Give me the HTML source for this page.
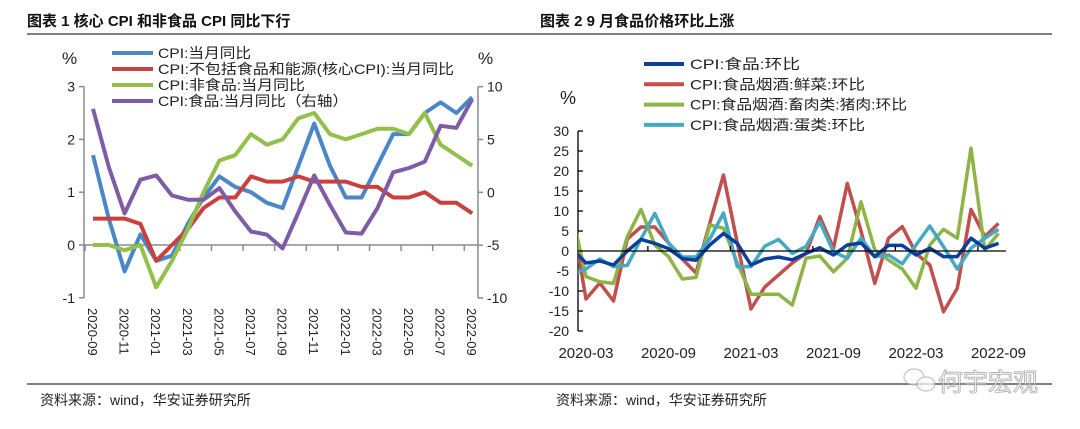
<!DOCTYPE html>
<html><head><meta charset="utf-8"><style>
html,body{margin:0;padding:0;background:#fff;}
svg{display:block;font-family:"Liberation Sans","Noto Sans CJK SC",sans-serif;}
</style></head><body>
<svg id="root" width="1080" height="429" viewBox="0 0 1080 429" xmlns="http://www.w3.org/2000/svg">
<text x="27" y="26" font-size="15" font-weight="bold" fill="#111">图表 1  核心 CPI 和非食品 CPI 同比下行</text>
<text x="540" y="26" font-size="15" font-weight="bold" fill="#111">图表 2 9 月食品价格环比上涨</text>
<line x1="27" y1="34" x2="1052" y2="34" stroke="#808080" stroke-width="2"/>
<line x1="27" y1="384" x2="1052" y2="384" stroke="#808080" stroke-width="2"/>
<text x="40" y="405" font-size="14" fill="#222">资料来源：wind，华安证券研究所</text>
<text x="556" y="405" font-size="14" fill="#222">资料来源：wind，华安证券研究所</text>
<g opacity="0.7">
<ellipse cx="914" cy="377" rx="10" ry="8" fill="#fff" stroke="#aaa" stroke-width="1.2"/>
<ellipse cx="926" cy="384" rx="9" ry="7" fill="#fff" stroke="#aaa" stroke-width="1.2"/>
<text x="938" y="391" font-size="25" fill="#fff" stroke="#999" stroke-width="1">何宇宏观</text>
</g>
<g id="left"></g>
<g id="right"></g>
</svg>
<script>
// ---------- Left chart data ----------
const leftMonths = ["2020-09","2020-10","2020-11","2020-12","2021-01","2021-02","2021-03","2021-04","2021-05","2021-06","2021-07","2021-08","2021-09","2021-10","2021-11","2021-12","2022-01","2022-02","2022-03","2022-04","2022-05","2022-06","2022-07","2022-08","2022-09"];
const cpiYoy = [1.7,0.5,-0.5,0.2,-0.3,-0.2,0.4,0.9,1.3,1.1,1.0,0.8,0.7,1.5,2.3,1.5,0.9,0.9,1.5,2.1,2.1,2.5,2.7,2.5,2.8];
const coreYoy = [0.5,0.5,0.5,0.4,-0.3,0.0,0.3,0.7,0.9,0.9,1.3,1.2,1.2,1.3,1.2,1.2,1.2,1.1,1.1,0.9,0.9,1.0,0.8,0.8,0.6];
const nonFoodYoy = [0.0,0.0,-0.1,0.0,-0.8,-0.3,0.3,1.0,1.6,1.7,2.1,1.9,2.0,2.4,2.5,2.1,2.0,2.1,2.2,2.2,2.1,2.5,1.9,1.7,1.5];
const foodYoy = [7.9,2.4,-2.0,1.2,1.6,-0.3,-0.7,-0.7,0.4,-1.8,-3.7,-4.0,-5.3,-1.9,1.6,-1.2,-3.8,-3.9,-1.5,1.9,2.3,2.9,6.3,6.1,8.8];
const leftTicks = [3,2,1,0,-1];
const rightTicks = [10,5,0,-5,-10];
const leftXLabels = ["2020-09","2020-11","2021-01","2021-03","2021-05","2021-07","2021-09","2021-11","2022-01","2022-03","2022-05","2022-07","2022-09"];

// ---------- Right chart data ----------
const rMonths = ["2020-02","2020-03","2020-04","2020-05","2020-06","2020-07","2020-08","2020-09","2020-10","2020-11","2020-12","2021-01","2021-02","2021-03","2021-04","2021-05","2021-06","2021-07","2021-08","2021-09","2021-10","2021-11","2021-12","2022-01","2022-02","2022-03","2022-04","2022-05","2022-06","2022-07","2022-08","2022-09"];
const foodMom = [0.5,-3,-2.5,-3.5,0,2.9,1.9,0.6,-1.9,-2.3,1.5,4.4,1.9,-3.5,-2,-1.5,-2.2,-0.6,0.8,-1,1.5,2,-1.4,1.4,1.4,-1,0.7,-1.4,-1.4,3.2,0.7,1.9];
const vegMom = [8,-12,-8,-12.5,3,6,6,2,-2,-5.5,7,19,2,-14.5,-9,-6,-3,-0.6,8.6,0.7,16.9,5,-8.1,3.2,6.1,-0.6,-3.5,-15.2,-9.3,10.4,3.6,6.9];
const porkMom = [9,-6.4,-7.7,-8.1,3.6,10.4,1.5,-1.4,-7,-6.6,6.5,5.7,-3,-10.8,-10.8,-10.8,-13.5,-1.8,-1.25,-5.2,-1.8,12.3,0.25,-2.25,-4.5,-9.3,1.5,5.4,3.2,25.7,0.25,4.4];
const eggMom = [-5.7,-4.5,-2,-3.9,-3.6,3,9.4,2,-1.5,-1.5,3,9.5,-3.9,-3.9,1.2,2.9,-0.6,1.1,7.3,-0.2,-1.8,3.2,-1.4,-1,-3.2,1.5,6.25,1.1,-4.5,0.7,3.2,5.4];
const rTicks = [30,25,20,15,10,5,0,-5,-10,-15,-20];
const rXLabels = ["2020-03","2020-09","2021-03","2021-09","2022-03","2022-09"];

const NS = "http://www.w3.org/2000/svg";
function mk(parent, tag, attrs, text){
  const e = document.createElementNS(NS, tag);
  for (const k in attrs) e.setAttribute(k, attrs[k]);
  if (text !== undefined) e.textContent = text;
  parent.appendChild(e);
  return e;
}
function pathFrom(vals, xf, yf){
  return vals.map((v,i)=>(i?"L":"M")+xf(i).toFixed(1)+","+yf(v).toFixed(1)).join(" ");
}

// ---------- Left chart ----------
const L = document.getElementById("left");
const lx = i => 93 + i*15.8;
const ly = v => 245 - v*52.8;
const ry = v => 192.35 - v*10.57;
const axL = 84, axR = 478;
let e;
e = mk(L,"line",{x1:axL,y1:ly(3),x2:axL,y2:ly(-1),stroke:"#8c8c8c","stroke-width":1.5});
 
e = mk(L,"line",{x1:axR,y1:ry(10),x2:axR,y2:ry(-10),stroke:"#8c8c8c","stroke-width":1.5});
 
e = mk(L,"line",{x1:axL,y1:ly(0),x2:axR,y2:ly(0),stroke:"#8c8c8c","stroke-width":1.5});
 
leftTicks.forEach(t=>{
  mk(L,"line",{x1:axL-5,y1:ly(t),x2:axL,y2:ly(t),stroke:"#8c8c8c","stroke-width":1.5});
  e = mk(L,"text",{x:axL-9,y:ly(t)+5,"font-size":14,"text-anchor":"end",fill:"#222"},String(t));
   
});
rightTicks.forEach(t=>{
  mk(L,"line",{x1:axR,y1:ry(t),x2:axR+5,y2:ry(t),stroke:"#8c8c8c","stroke-width":1.5});
  e = mk(L,"text",{x:axR+9,y:ry(t)+5,"font-size":14,"text-anchor":"start",fill:"#222"},String(t));
   
});
for (let k=-0.5; k<=23.5; k+=2){
  mk(L,"line",{x1:lx(k),y1:ly(0),x2:lx(k),y2:ly(0)+6,stroke:"#8c8c8c","stroke-width":1.5});
}
leftXLabels.forEach(lab=>{
  const i = leftMonths.indexOf(lab);
  e = mk(L,"text",{x:0,y:0,"font-size":13,fill:"#222",transform:`translate(${lx(i)-5},308) rotate(90)`},lab);
   
});
e = mk(L,"text",{x:62,y:64,"font-size":17,fill:"#222"},"%");
 
e = mk(L,"text",{x:478,y:64,"font-size":17,fill:"#222"},"%");
 

const leftSeries = [
  {vals:cpiYoy, c:"#4a86c8", yf:ly, name:"cpi-yoy-line", label:"CPI:当月同比", w:93},
  {vals:coreYoy, c:"#c9413f", yf:ly, name:"core-cpi-line", label:"CPI:不包括食品和能源(核心CPI):当月同比", w:296},
  {vals:nonFoodYoy, c:"#92c04a", yf:ly, name:"non-food-cpi-line", label:"CPI:非食品:当月同比", w:147},
  {vals:foodYoy, c:"#7f5ca6", yf:ry, name:"food-cpi-line", label:"CPI:食品:当月同比（右轴）", w:190}
];
leftSeries.forEach((s,k)=>{
  e = mk(L,"path",{d:pathFrom(s.vals,lx,s.yf),fill:"none",stroke:s.c,"stroke-width":4,"stroke-linejoin":"round"});
   
  const yy = 53 + k*16;
  e = mk(L,"line",{x1:112,y1:yy,x2:153,y2:yy,stroke:s.c,"stroke-width":4});
   
  e = mk(L,"text",{x:158,y:yy+5,"font-size":14,fill:"#222",textLength:s.w,lengthAdjust:"spacingAndGlyphs"},s.label);
   
});

// ---------- Right chart ----------
const R = document.getElementById("right");
const rx = i => 572.25 + i*13.75; // index 0 = 2020-02 (clipped at axis)
const rY = v => 251 - v*4.0;
const rAx = 578;
mk(R,"clipPath",{id:"rclip"}).appendChild(document.createElementNS(NS,"rect"));
const cr = R.querySelector("#rclip rect");
cr.setAttribute("x",rAx); cr.setAttribute("y",100); cr.setAttribute("width",440); cr.setAttribute("height",250);
e = mk(R,"line",{x1:rAx,y1:rY(30),x2:rAx,y2:rY(-20),stroke:"#000","stroke-width":1.3});
 
rTicks.forEach(t=>{
  mk(R,"line",{x1:rAx,y1:rY(t),x2:rAx+5,y2:rY(t),stroke:"#000","stroke-width":1.3});
  e = mk(R,"text",{x:569,y:rY(t)+5,"font-size":14,"text-anchor":"end",fill:"#222"},String(t));
   
});
e = mk(R,"text",{x:560,y:104,"font-size":18,fill:"#222"},"%");
 
const series2 = [
  {vals:vegMom, c:"#c0504d", name:"vegetable-mom-line", label:"CPI:食品烟酒:鲜菜:环比", w:175},
  {vals:porkMom, c:"#8db445", name:"pork-mom-line", label:"CPI:食品烟酒:畜肉类:猪肉:环比", w:217},
  {vals:eggMom, c:"#45a9c4", name:"egg-mom-line", label:"CPI:食品烟酒:蛋类:环比", w:175},
  {vals:foodMom, c:"#0b3f9c", name:"food-mom-line", label:"CPI:食品:环比", w:110}
];
const legendOrder = [3,0,1,2];
series2.forEach(s=>{
  e = mk(R,"path",{d:pathFrom(s.vals,rx,rY),fill:"none",stroke:s.c,"stroke-width":3.5,"stroke-linejoin":"round","clip-path":"url(#rclip)"});
   
});
e = mk(R,"line",{x1:rAx,y1:rY(0),x2:1006,y2:rY(0),stroke:"#000","stroke-width":1.3});
 
for (let k=5.5; k<=30.5; k+=6){
  mk(R,"line",{x1:rx(k),y1:rY(0),x2:rx(k),y2:rY(0)-5,stroke:"#000","stroke-width":1.3});
}
rXLabels.forEach(lab=>{
  const i = rMonths.indexOf(lab);
  e = mk(R,"text",{x:rx(i),y:358,"font-size":15,"text-anchor":"middle",fill:"#222"},lab);
   
});
legendOrder.forEach((si,k)=>{
  const s = series2[si];
  const yy = 64 + k*20.3;
  e = mk(R,"line",{x1:644,y1:yy,x2:684,y2:yy,stroke:s.c,"stroke-width":4});
   
  e = mk(R,"text",{x:690,y:yy+5,"font-size":14,fill:"#222",textLength:s.w,lengthAdjust:"spacingAndGlyphs"},s.label);
   
});
</script>
</body></html>
